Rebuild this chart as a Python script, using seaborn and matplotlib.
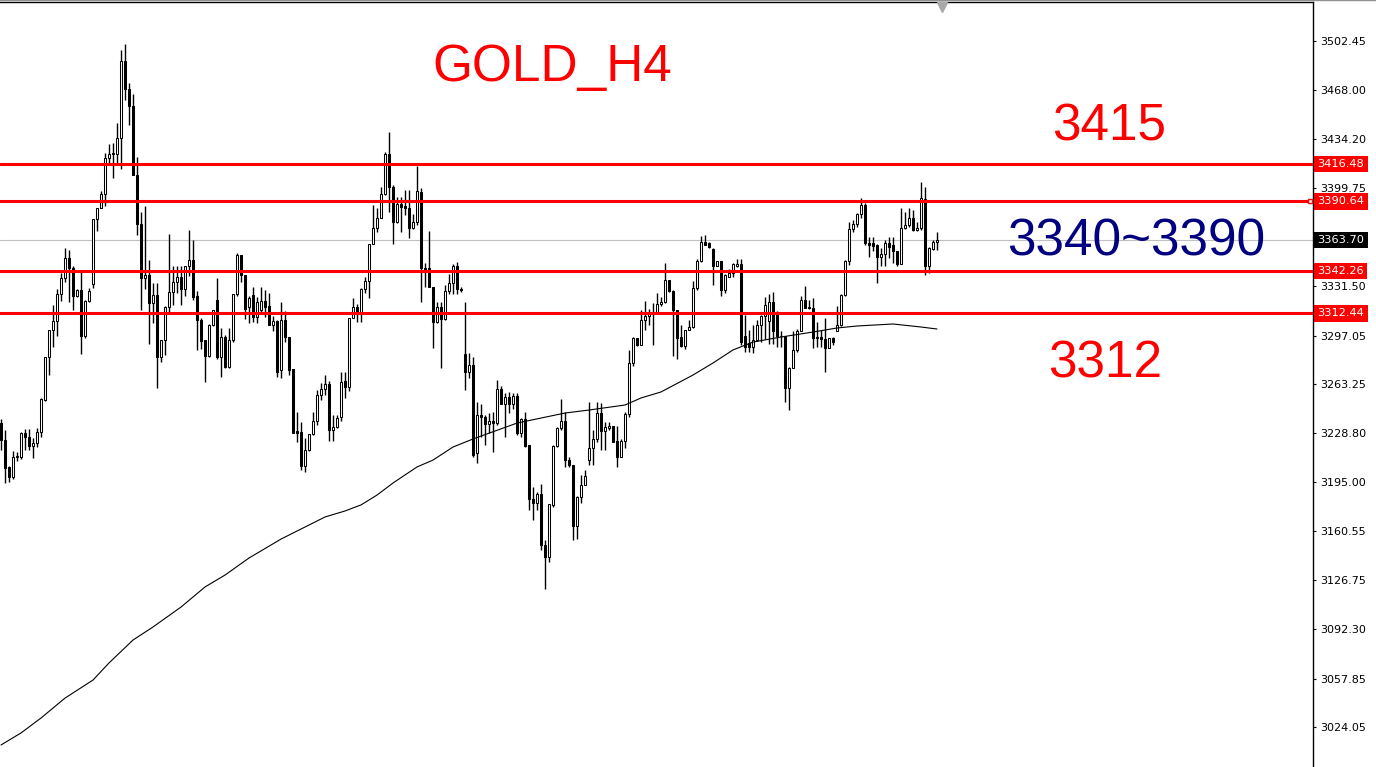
import numpy as np
import pandas as pd
import matplotlib
matplotlib.use("Agg")
import matplotlib.pyplot as plt
from matplotlib.lines import Line2D
import seaborn as sns

sns.set_theme(style="white")
plt.rcParams["font.family"] = ["Liberation Sans", "DejaVu Sans"]

## H4 candles (oldest first)
opens = [
    3236.1, 3224.2, 3205.4, 3198.4, 3212.4, 3212.4, 3229.1, 3226.3, 3220.0, 3222.1,
    3229.8, 3252.1, 3282.1, 3300.9, 3307.2, 3326.1, 3337.2, 3351.1, 3344.1, 3324.5,
    3328.8, 3296.7, 3321.1, 3333.0, 3378.4, 3385.9, 3396.0, 3421.1, 3423.9, 3423.9,
    3434.8, 3488.5, 3469.0, 3457.1, 3409.3, 3375.0, 3337.2, 3339.3, 3319.7, 3325.4,
    3282.1, 3293.9, 3316.9, 3327.4, 3334.4, 3337.9, 3329.5, 3345.2, 3349.7, 3324.5,
    3307.9, 3293.9, 3282.8, 3304.4, 3321.8, 3282.1, 3296.0, 3275.1, 3293.9, 3326.1,
    3353.2, 3339.3, 3316.9, 3325.4, 3310.0, 3314.8, 3321.1, 3317.6, 3304.4, 3307.2,
    3273.0, 3307.9, 3296.0, 3273.7, 3230.5, 3229.8, 3206.1, 3217.2, 3228.4, 3237.5,
    3255.6, 3259.8, 3263.3, 3231.2, 3233.3, 3240.3, 3265.4, 3261.1, 3309.3, 3317.0,
    3313.5, 3329.5, 3335.1, 3360.9, 3372.1, 3379.0, 3396.0, 3423.9, 3400.6, 3376.3,
    3388.8, 3387.4, 3386.0, 3372.1, 3376.3, 3397.1, 3344.1, 3344.1, 3330.9, 3306.5,
    3316.9, 3308.6, 3328.1, 3333.7, 3345.2, 3329.5, 3284.2, 3271.7, 3276.5, 3215.2,
    3241.6, 3240.3, 3235.4, 3237.5, 3236.1, 3259.8, 3249.3, 3254.2, 3249.3, 3254.9,
    3229.1, 3238.8, 3220.7, 3183.1, 3180.3, 3186.6, 3151.0, 3142.6, 3178.9, 3220.0,
    3232.6, 3237.5, 3210.3, 3206.8, 3163.9, 3184.2, 3192.7, 3210.0, 3218.6, 3224.9,
    3243.0, 3230.5, 3232.6, 3234.0, 3223.5, 3212.4, 3223.5, 3242.3, 3277.9, 3295.3,
    3290.4, 3307.9, 3310.7, 3312.8, 3312.8, 3319.0, 3320.4, 3335.8, 3328.1, 3314.8,
    3296.0, 3289.7, 3300.9, 3303.0, 3330.2, 3349.0, 3362.3, 3361.6, 3357.4, 3345.2,
    3348.7, 3328.8, 3337.9, 3340.7, 3345.2, 3347.0, 3296.7, 3291.8, 3289.0, 3293.9,
    3304.4, 3310.7, 3307.2, 3320.4, 3313.4, 3296.7, 3296.7, 3260.4, 3274.4, 3286.9,
    3300.2, 3321.8, 3316.9, 3316.2, 3296.0, 3296.0, 3294.6, 3288.4, 3295.3, 3300.2,
    3304.4, 3325.4, 3349.0, 3371.4, 3374.9, 3381.8, 3388.1, 3361.6, 3361.6, 3360.2,
    3351.8, 3353.9, 3361.6, 3360.2, 3356.0, 3346.9, 3372.1, 3374.2, 3379.0, 3370.6,
    3372.1, 3392.3, 3345.2, 3357.4, 3362.3,
]
highs = [
    3238.9, 3231.2, 3206.1, 3216.5, 3215.8, 3229.8, 3231.9, 3231.9, 3225.6, 3232.6,
    3253.5, 3282.1, 3300.9, 3318.3, 3329.6, 3341.0, 3358.1, 3356.7, 3345.5, 3329.5,
    3341.7, 3321.8, 3330.2, 3378.4, 3385.9, 3397.8, 3424.3, 3430.6, 3431.3, 3445.3,
    3496.2, 3500.4, 3473.2, 3465.5, 3421.8, 3383.2, 3387.4, 3349.7, 3333.7, 3333.7,
    3293.9, 3317.6, 3368.0, 3345.2, 3345.2, 3345.2, 3345.2, 3370.7, 3363.7, 3328.1,
    3309.3, 3293.9, 3305.1, 3314.8, 3337.2, 3302.3, 3297.4, 3302.3, 3326.1, 3354.6,
    3353.2, 3339.3, 3324.5, 3330.9, 3323.8, 3330.9, 3328.8, 3326.8, 3310.7, 3307.9,
    3320.4, 3314.1, 3296.0, 3273.7, 3243.7, 3236.8, 3225.6, 3228.4, 3243.7, 3259.1,
    3264.2, 3269.5, 3265.4, 3241.6, 3241.6, 3271.7, 3271.7, 3309.3, 3323.1, 3319.1,
    3330.2, 3337.9, 3360.9, 3388.1, 3386.0, 3400.6, 3425.0, 3439.3, 3402.0, 3393.7,
    3393.7, 3398.5, 3398.5, 3381.8, 3415.3, 3399.9, 3347.6, 3370.0, 3330.9, 3320.4,
    3320.4, 3332.3, 3339.9, 3346.9, 3348.4, 3330.9, 3320.4, 3285.0, 3282.1, 3250.6,
    3249.3, 3241.6, 3243.0, 3243.7, 3266.0, 3261.9, 3256.9, 3257.6, 3256.9, 3256.9,
    3239.5, 3243.7, 3220.7, 3191.6, 3187.9, 3193.6, 3154.5, 3179.6, 3220.7, 3233.3,
    3252.8, 3243.7, 3212.4, 3206.8, 3184.9, 3199.9, 3203.3, 3250.6, 3231.2, 3250.6,
    3250.0, 3236.8, 3236.8, 3234.0, 3234.0, 3224.9, 3243.7, 3286.9, 3296.0, 3295.3,
    3314.8, 3321.1, 3315.5, 3319.7, 3326.8, 3323.8, 3347.6, 3335.8, 3328.8, 3314.8,
    3304.4, 3300.9, 3307.9, 3335.1, 3350.4, 3366.5, 3367.2, 3362.3, 3358.1, 3348.7,
    3348.7, 3339.9, 3343.4, 3347.6, 3350.4, 3350.4, 3311.4, 3300.9, 3304.4, 3307.9,
    3311.4, 3323.8, 3326.1, 3327.4, 3314.1, 3300.2, 3296.7, 3275.1, 3300.2, 3301.6,
    3324.5, 3331.6, 3321.8, 3323.1, 3306.5, 3300.9, 3309.3, 3295.3, 3296.0, 3317.6,
    3326.1, 3349.7, 3376.3, 3377.6, 3382.5, 3393.0, 3389.5, 3365.8, 3365.8, 3360.9,
    3358.1, 3363.7, 3365.8, 3365.8, 3356.0, 3386.0, 3383.2, 3386.0, 3384.6, 3376.3,
    3404.1, 3400.6, 3358.8, 3363.7, 3369.3,
]
lows = [
    3217.2, 3194.2, 3194.9, 3197.0, 3209.6, 3211.0, 3217.2, 3217.2, 3211.7, 3219.3,
    3226.3, 3251.4, 3269.5, 3288.9, 3296.7, 3321.1, 3334.4, 3320.4, 3314.8, 3323.8,
    3284.2, 3295.3, 3320.4, 3330.2, 3369.8, 3385.9, 3387.2, 3417.7, 3406.8, 3417.7,
    3413.4, 3461.3, 3443.9, 3409.3, 3367.2, 3314.8, 3329.5, 3291.1, 3305.8, 3260.4,
    3278.6, 3283.5, 3313.4, 3318.3, 3326.8, 3318.3, 3324.5, 3338.6, 3321.8, 3286.9,
    3287.6, 3264.9, 3282.1, 3303.7, 3280.7, 3268.1, 3274.4, 3274.4, 3292.5, 3324.5,
    3334.4, 3308.6, 3305.8, 3306.5, 3305.8, 3313.4, 3310.0, 3304.4, 3300.2, 3268.1,
    3267.4, 3292.5, 3269.5, 3229.1, 3222.8, 3203.3, 3201.9, 3216.5, 3227.7, 3234.7,
    3252.1, 3255.6, 3223.5, 3223.5, 3232.6, 3237.5, 3253.5, 3258.4, 3309.3, 3306.5,
    3306.5, 3326.8, 3323.1, 3360.9, 3369.3, 3379.0, 3395.3, 3383.2, 3360.9, 3375.6,
    3369.3, 3381.1, 3364.9, 3371.4, 3374.2, 3320.4, 3330.9, 3330.9, 3288.4, 3305.8,
    3274.4, 3307.9, 3326.1, 3326.1, 3326.1, 3327.4, 3259.1, 3267.4, 3212.4, 3208.2,
    3226.3, 3220.7, 3229.1, 3215.8, 3234.7, 3249.3, 3226.3, 3243.0, 3246.1, 3227.7,
    3226.3, 3219.3, 3175.4, 3168.4, 3175.4, 3147.5, 3120.3, 3139.1, 3177.5, 3219.3,
    3231.2, 3205.4, 3205.4, 3154.4, 3155.2, 3180.3, 3192.7, 3206.8, 3206.8, 3222.8,
    3217.2, 3217.2, 3231.2, 3222.8, 3205.4, 3212.4, 3218.6, 3240.3, 3275.8, 3289.7,
    3290.4, 3300.9, 3304.4, 3290.4, 3312.1, 3317.6, 3319.7, 3327.4, 3282.8, 3280.7,
    3289.0, 3287.6, 3300.9, 3302.3, 3328.8, 3348.3, 3360.0, 3358.1, 3332.3, 3345.2,
    3324.5, 3326.8, 3337.9, 3337.9, 3344.5, 3290.4, 3285.6, 3285.6, 3284.9, 3293.2,
    3292.5, 3294.6, 3291.1, 3291.1, 3288.9, 3288.9, 3250.7, 3245.1, 3274.4, 3285.6,
    3300.2, 3316.2, 3315.5, 3288.4, 3288.9, 3288.9, 3271.7, 3288.4, 3290.4, 3300.2,
    3303.7, 3324.7, 3346.2, 3369.3, 3372.8, 3379.0, 3360.2, 3351.8, 3356.1, 3333.7,
    3345.4, 3345.4, 3351.1, 3347.6, 3345.4, 3346.9, 3371.4, 3372.8, 3370.0, 3370.0,
    3370.6, 3339.3, 3340.7, 3356.7, 3356.7,
]
closes = [
    3224.2, 3204.7, 3198.4, 3212.4, 3213.1, 3229.1, 3226.3, 3220.0, 3222.1, 3229.8,
    3252.8, 3282.1, 3300.9, 3307.2, 3326.1, 3337.2, 3351.1, 3344.1, 3324.5, 3328.8,
    3296.7, 3321.1, 3328.1, 3378.4, 3385.9, 3396.0, 3421.1, 3423.9, 3423.6, 3434.8,
    3488.5, 3469.0, 3457.1, 3409.3, 3375.0, 3337.2, 3339.3, 3319.7, 3325.4, 3282.1,
    3293.9, 3316.9, 3327.4, 3334.4, 3337.9, 3329.5, 3345.2, 3349.7, 3323.8, 3307.9,
    3293.2, 3282.8, 3304.4, 3314.8, 3282.1, 3296.0, 3275.1, 3293.9, 3326.1, 3353.2,
    3339.3, 3315.5, 3323.1, 3310.0, 3320.4, 3321.1, 3316.9, 3304.4, 3307.2, 3271.7,
    3307.9, 3296.0, 3273.0, 3229.1, 3229.1, 3206.1, 3217.2, 3228.4, 3237.5, 3255.6,
    3259.8, 3263.3, 3231.2, 3233.3, 3239.5, 3264.7, 3261.1, 3309.3, 3317.0, 3313.5,
    3329.5, 3335.1, 3360.9, 3372.1, 3379.0, 3396.0, 3423.9, 3400.6, 3376.3, 3388.8,
    3386.7, 3386.0, 3372.1, 3376.3, 3397.8, 3344.1, 3343.4, 3330.9, 3306.5, 3316.9,
    3308.6, 3328.1, 3333.7, 3345.2, 3329.5, 3328.8, 3271.7, 3276.5, 3213.8, 3241.6,
    3240.3, 3235.4, 3237.5, 3236.1, 3259.8, 3249.3, 3254.2, 3249.3, 3254.9, 3229.1,
    3238.8, 3220.0, 3183.1, 3180.3, 3186.6, 3151.0, 3142.6, 3179.6, 3220.0, 3232.6,
    3237.5, 3210.3, 3206.8, 3163.9, 3184.2, 3192.7, 3198.9, 3218.6, 3224.9, 3243.0,
    3230.5, 3233.3, 3234.0, 3222.8, 3212.4, 3223.5, 3242.3, 3277.9, 3295.3, 3290.4,
    3307.9, 3310.7, 3312.8, 3312.1, 3319.0, 3320.4, 3335.8, 3328.1, 3314.8, 3295.3,
    3289.7, 3300.9, 3303.0, 3330.2, 3349.0, 3362.3, 3360.2, 3358.8, 3345.2, 3348.7,
    3328.8, 3339.3, 3340.7, 3347.0, 3347.0, 3292.5, 3289.0, 3289.0, 3293.9, 3304.4,
    3310.7, 3318.4, 3320.4, 3300.2, 3296.7, 3296.5, 3260.4, 3274.4, 3286.9, 3300.2,
    3321.8, 3316.2, 3316.2, 3295.3, 3295.3, 3294.6, 3288.4, 3295.3, 3292.5, 3304.4,
    3325.4, 3349.0, 3371.4, 3374.9, 3381.8, 3388.1, 3361.6, 3360.2, 3359.5, 3351.8,
    3353.9, 3361.6, 3358.8, 3356.0, 3346.9, 3372.1, 3374.2, 3379.0, 3370.6, 3372.1,
    3393.0, 3345.2, 3358.1, 3362.3, 3363.7,
]

# moving average line (bar index, price)
ma_idx = [0, 5, 10, 16, 23, 27, 33, 38, 45, 51, 56, 62, 70, 76, 81, 86, 90, 94, 98, 104,
          108, 113, 118, 129, 141, 147, 156, 160, 165, 173, 178, 183, 188, 195, 203, 209,
          214, 223, 230, 234]
ma_val = [3011.5, 3019.9, 3030.3, 3044.2, 3056.8, 3068.7, 3084.7, 3093.8, 3107.7, 3121.7,
          3130.0, 3141.9, 3155.1, 3163.5, 3170.5, 3174.7, 3178.9, 3185.8, 3194.2, 3205.4,
          3210.2, 3219.3, 3224.9, 3236.0, 3243.0, 3245.1, 3248.6, 3253.5, 3257.7, 3269.5,
          3277.9, 3287.0, 3292.5, 3296.0, 3299.5, 3302.3, 3303.7, 3305.1, 3303.0, 3301.6]

# horizontal levels and price scale
levels = [3416.48, 3390.64, 3342.26, 3312.44]
bid = 3363.70
axis_ticks = [3502.45, 3468.00, 3434.20, 3399.75, 3331.50, 3297.05, 3263.25,
              3228.80, 3195.00, 3160.55, 3126.75, 3092.30, 3057.85, 3024.05]

data = pd.DataFrame({"open": opens, "high": highs, "low": lows, "close": closes})
data["idx"] = np.arange(len(data))
data["up"] = data["close"] >= data["open"]

fig = plt.figure(figsize=(13.76, 7.67), dpi=100)
ax = fig.add_axes([0, 0, 1313 / 1376, 765 / 767])

# bid line under everything
ax.axhline(bid, color="#c0c0c0", lw=0.8, zorder=1)

# wicks + bodies
ax.vlines(data["idx"], data["low"], data["high"], color="black", lw=1.0, zorder=2)
body_bottom = data[["open", "close"]].min(axis=1)
body_h = (data["close"] - data["open"]).abs().clip(lower=0.4)
body_col = np.where(data["up"], "white", "black")
ax.bar(data["idx"], body_h, bottom=body_bottom, width=0.55, color=body_col,
       edgecolor="black", linewidth=0.75, zorder=3)

# moving average
sns.lineplot(x=ma_idx, y=ma_val, color="black", lw=0.8, ax=ax, zorder=3)

# support / resistance lines
for p in levels:
    ax.axhline(p, color="#ff0000", lw=2.2, zorder=4)

ax.set_xlim(-0.25, 328.0)
ax.set_ylim(2996.15, 3529.65)

# price scale on the right
ax.yaxis.tick_right()
ax.set_yticks(axis_ticks)
ax.set_yticklabels([f"{t:.2f}" for t in axis_ticks], family="DejaVu Sans")
ax.tick_params(axis="y", direction="out", length=2.5, width=0.8, labelsize=8,
               pad=2.5, colors="black", right=True, left=False)
ax.set_xticks([])
ax.set_xlabel("")
ax.set_ylabel("")
for s in ["left", "bottom"]:
    ax.spines[s].set_visible(False)
for s in ["right", "top"]:
    ax.spines[s].set_color("black")
    ax.spines[s].set_linewidth(1)

# price labels in the scale
ytr = ax.get_yaxis_transform()
for p in levels:
    ax.text(1.0035, p, f"{p:.2f}", transform=ytr, ha="left", va="center", fontsize=8.2,
            family="DejaVu Sans", color="white", clip_on=False, zorder=6,
            bbox=dict(boxstyle="square,pad=0.28", fc="#ff0000", ec="none"))
ax.text(1.0035, bid, f"{bid:.2f}", transform=ytr, ha="left", va="center", fontsize=8.2,
        family="DejaVu Sans", color="white", clip_on=False, zorder=6,
        bbox=dict(boxstyle="square,pad=0.28", fc="black", ec="none"))
ax.plot([0.9975], [levels[1]], transform=ytr, marker="s", ms=3.5, mfc="white",
        mec="#ff0000", mew=1, clip_on=False, zorder=7)

# chart shift marker and top frame
ax.plot([0.7174], [0.994], transform=ax.transAxes, marker="v", ms=7, color="#a8a8a8",
        clip_on=False, zorder=7)
fig.add_artist(Line2D([0, 1], [0.9995, 0.9995], color="#909090", lw=1,
                      transform=fig.transFigure))

# annotations
ax.text(137.75, 3474.6, "GOLD_H4", color="#ff0000", fontsize=37, ha="center",
        va="baseline", zorder=8)
ax.text(262.75, 3433.4, "3415", color="#ff0000", fontsize=37, ha="left",
        va="baseline", zorder=8)
ax.text(251.5, 3353.2, "3340~3390", color="#000080", fontsize=37, ha="left",
        va="baseline", zorder=8)
ax.text(261.75, 3268.1, "3312", color="#ff0000", fontsize=37, ha="left",
        va="baseline", zorder=8)

fig.savefig("out.png", dpi=100)
